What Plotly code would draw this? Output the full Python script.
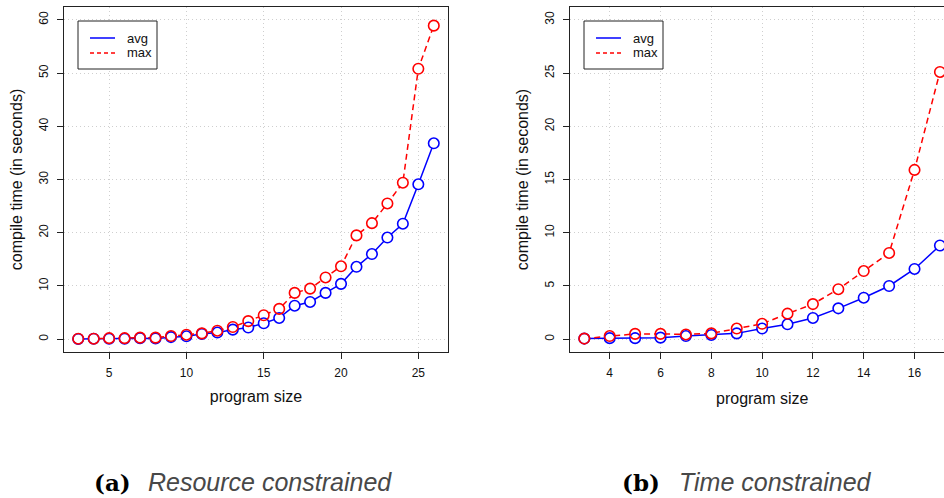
import plotly.graph_objects as go

# (a) resource constrained
size_a = list(range(3, 27))
avg_a = [0.05, 0.1, 0.1, 0.1, 0.2, 0.15, 0.4, 0.55, 1.0, 1.25, 1.8, 2.2, 3.0, 4.0,
         6.3, 7.0, 8.7, 10.4, 13.6, 16.0, 19.1, 21.7, 29.1, 36.8]
max_a = [0.1, 0.1, 0.2, 0.2, 0.3, 0.3, 0.6, 0.85, 1.1, 1.6, 2.3, 3.4, 4.5, 5.7,
         8.7, 9.5, 11.6, 13.7, 19.5, 21.8, 25.5, 29.4, 50.8, 58.9]

# (b) time constrained
size_b = list(range(3, 18))
avg_b = [0.06, 0.1, 0.1, 0.15, 0.3, 0.4, 0.55, 1.0, 1.4, 2.0, 2.9, 3.9, 5.0, 6.6, 8.8]
max_b = [0.06, 0.3, 0.5, 0.5, 0.45, 0.55, 1.0, 1.45, 2.4, 3.3, 4.7, 6.4, 8.1, 15.9, 25.1]

ticks_xa = [5, 10, 15, 20, 25]
ticks_ya = [0, 10, 20, 30, 40, 50, 60]
ticks_xb = [4, 6, 8, 10, 12, 14, 16]
ticks_yb = [0, 5, 10, 15, 20, 25, 30]

BLUE = '#0000ff'
RED = '#ff0000'
FONT = 'Liberation Sans, Arial, sans-serif'

W, H = 944, 498


def px(x):
    return x / W


def py(y):
    return 1 - y / H


fig = go.Figure()


def add_panel(x, avg, mx, xa, ya):
    # lines first, then white discs to open gaps, then the rings (like R type="b")
    fig.add_trace(go.Scatter(x=x, y=avg, mode='lines', line=dict(color=BLUE, width=1.5),
                             xaxis=xa, yaxis=ya, hoverinfo='skip'))
    fig.add_trace(go.Scatter(x=x, y=mx, mode='lines', line=dict(color=RED, width=1.5, dash='6px,4px'),
                             xaxis=xa, yaxis=ya, hoverinfo='skip'))
    for ys in (avg, mx):
        fig.add_trace(go.Scatter(x=x, y=ys, mode='markers',
                                 marker=dict(symbol='circle', size=10, color='white', line=dict(width=0)),
                                 xaxis=xa, yaxis=ya, hoverinfo='skip'))
    fig.add_trace(go.Scatter(x=x, y=avg, mode='markers', name='avg',
                             marker=dict(symbol='circle-open', size=10.5, color=BLUE, line=dict(width=1.6)),
                             xaxis=xa, yaxis=ya))
    fig.add_trace(go.Scatter(x=x, y=mx, mode='markers', name='max',
                             marker=dict(symbol='circle-open', size=10.5, color=RED, line=dict(width=1.6)),
                             xaxis=xa, yaxis=ya))


def add_legend(left):
    # R style legend box: lines only, no symbols
    fig.add_shape(type='rect', xref='paper', yref='paper',
                  x0=px(left), x1=px(left + 79), y0=py(69), y1=py(21),
                  line=dict(color='#222222', width=1), fillcolor='white', layer='above')
    for yy, col, dash, name in ((38, BLUE, 'solid', 'avg'), (53, RED, '4px,3px', 'max')):
        fig.add_shape(type='line', xref='paper', yref='paper',
                      x0=px(left + 12), x1=px(left + 37), y0=py(yy), y1=py(yy),
                      line=dict(color=col, width=1.5, dash=dash), layer='above')
        fig.add_annotation(x=px(left + 47), y=py(yy), xref='paper', yref='paper',
                           xanchor='left', yanchor='middle', text=name, showarrow=False,
                           font=dict(family=FONT, size=13, color='#111111'))


add_panel(size_a, avg_a, max_a, 'x', 'y')
add_panel(size_b, avg_b, max_b, 'x2', 'y2')
add_legend(78)
add_legend(584)

y_dom = [py(352), py(7)]

axis_common = dict(
    showline=True, linecolor='#222222', linewidth=1,
    ticks='outside', ticklen=6, tickcolor='#222222', tickwidth=1,
    showgrid=True, gridcolor='#cfcfcf', gridwidth=1, griddash='1px,3px',
    zeroline=False, tickfont=dict(family=FONT, size=12, color='#111111'),
    automargin=False,
)

fig.update_layout(
    width=W, height=H,
    margin=dict(l=0, r=0, t=0, b=0),
    paper_bgcolor='white', plot_bgcolor='white',
    font=dict(family=FONT, color='#111111'),
    showlegend=False,
    xaxis=dict(axis_common, domain=[px(64), px(448)], range=[2.08, 26.92], tickvals=ticks_xa,
               mirror=True, ticklabelstandoff=4,
               title=dict(text='program size', font=dict(size=16), standoff=11)),
    yaxis=dict(axis_common, domain=y_dom, range=[-2.4, 62.4], tickvals=ticks_ya,
               mirror=True, tickangle=-90, ticklabelstandoff=4,
               title=dict(text='compile time (in seconds)', font=dict(size=16), standoff=10)),
    xaxis2=dict(axis_common, domain=[px(570), 1], range=[2.437, 17.16], tickvals=ticks_xb,
                mirror=True, anchor='y2', ticklabelstandoff=4),
    yaxis2=dict(axis_common, domain=y_dom, range=[-1.2, 31.2], tickvals=ticks_yb,
                mirror=False, tickangle=-90, anchor='x2', ticklabelstandoff=4,
                title=dict(text='compile time (in seconds)', font=dict(size=16), standoff=10)),
)

# x title of the cut-off right panel, centred on its full (uncut) range
fig.add_annotation(x=10, y=py(398), xref='x2', yref='paper', yanchor='middle',
                   text='program size', showarrow=False,
                   font=dict(family=FONT, size=16, color='#111111'))

# sub-figure captions
cap_y = py(482)
fig.add_annotation(x=px(133), y=cap_y, xref='paper', yref='paper', xanchor='right', yanchor='middle',
                   text='<b>(a)</b>', showarrow=False,
                   font=dict(family='DejaVu Serif, serif', size=23, color='#000000'))
fig.add_annotation(x=px(146), y=cap_y, xref='paper', yref='paper', xanchor='left', yanchor='middle',
                   text='<i>Resource constrained</i>', showarrow=False,
                   font=dict(family=FONT, size=25, color='#484848'))
fig.add_annotation(x=px(662), y=cap_y, xref='paper', yref='paper', xanchor='right', yanchor='middle',
                   text='<b>(b)</b>', showarrow=False,
                   font=dict(family='DejaVu Serif, serif', size=23, color='#000000'))
fig.add_annotation(x=px(677), y=cap_y, xref='paper', yref='paper', xanchor='left', yanchor='middle',
                   text='<i>Time constrained</i>', showarrow=False,
                   font=dict(family=FONT, size=25, color='#484848'))

# page body has a default 8px margin; drop it so the figure sits at the window's corner
fig.write_html('out.html', config={'displayModeBar': False},
               post_script="document.body.style.margin='0';")
